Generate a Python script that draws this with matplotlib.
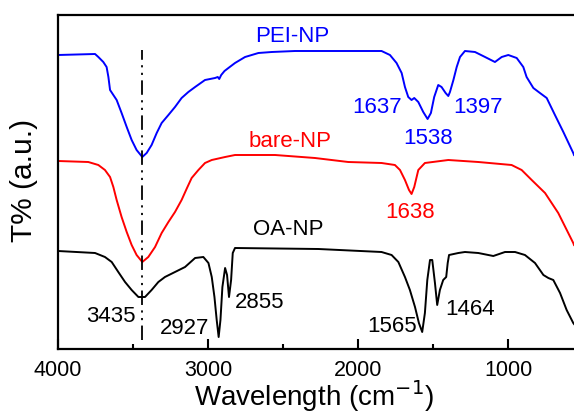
import matplotlib
matplotlib.use("Agg")
import matplotlib.pyplot as plt
from matplotlib.ticker import FixedLocator

plt.rcParams['font.family'] = ['Liberation Sans', 'DejaVu Sans']

# ---- data (wavenumber cm^-1, transmittance in arbitrary offset units) ----
pei_w = [4000, 3753, 3731, 3698, 3676, 3664, 3653, 3631, 3609, 3576, 3542, 3509, 3476,
         3438, 3409, 3376, 3342, 3309, 3264, 3220, 3176, 3131, 3086, 3020, 2953, 2935,
         2925, 2912, 2890, 2864, 2820, 2753, 2664, 2575, 2420, 2264, 1843, 1787, 1743, 1709,
         1687, 1665, 1643, 1625, 1598, 1565, 1536, 1514, 1492, 1465, 1443, 1416, 1398,
         1387, 1364, 1342, 1320, 1287, 1220, 1153, 1087, 1042, 998, 942, 898, 876, 831,
         787, 742, 687, 631, 565, 560]
pei_t = [294, 295, 292, 287, 282, 272, 259, 254, 249, 236, 222, 209, 199,
         192, 196, 204, 216, 226, 234, 242, 251, 257, 262, 269, 271, 272,
         270, 274, 278, 281, 286, 292, 296, 297, 298, 298, 298, 294, 286, 276,
         262, 252, 249, 251, 247, 237, 230, 236, 252, 264, 262, 256, 253,
         257, 269, 282, 292, 298, 297, 292, 287, 292, 294, 291, 282, 272, 261,
         256, 251, 234, 217, 196, 194]

bare_w = [4000, 3798, 3731, 3687, 3653, 3631, 3609, 3576, 3542, 3509, 3476, 3438, 3398,
          3353, 3309, 3264, 3220, 3176, 3140, 3109, 3064, 3020, 2975, 2886, 2820, 2553,
          2287, 2065, 1843, 1754, 1720, 1687, 1660, 1643, 1625, 1598, 1554, 1398, 1198,
          976, 909, 842, 753, 665, 565, 560]
bare_t = [188, 187, 184, 179, 172, 162, 149, 132, 117, 104, 94, 87, 92,
          102, 116, 127, 137, 149, 161, 171, 179, 186, 189, 192, 194, 194,
          191, 187, 186, 184, 179, 169, 159, 155, 162, 179, 186, 189, 187,
          184, 179, 169, 156, 136, 106, 104]

oa_w = [4000, 3753, 3687, 3642, 3598, 3553, 3509, 3464, 3420, 3376, 3331, 3287, 3220,
        3153, 3086, 3031, 2997, 2975, 2957, 2942, 2929, 2917, 2904, 2886, 2873, 2860,
        2846, 2835, 2820, 2264, 1843, 1776, 1731, 1687, 1654, 1620, 1594, 1572, 1554,
        1538, 1520, 1505, 1487, 1472, 1454, 1432, 1412, 1402, 1393, 1331, 1287, 1198,
        1098, 1020, 953, 887, 820, 764, 731, 698, 653, 609, 565, 560]
oa_t = [98, 96, 92, 87, 77, 67, 59, 52, 52, 59, 67, 72, 77,
        82, 91, 92, 86, 72, 52, 29, 12, 29, 62, 81, 74, 52,
        69, 96, 101, 100, 97, 94, 87, 72, 59, 42, 26, 17, 36,
        69, 89, 89, 66, 44, 59, 69, 72, 86, 94, 96, 97, 96,
        93, 97, 97, 94, 86, 74, 71, 69, 56, 39, 26, 25]

ref_line_w = 3438
ref_line_t = [9, 299]

# annotations: (text, wavenumber, baseline y, colour)
labels = [
    ("PEI-NP", 2440, 307, "#0000ff"),
    ("1637", 1873, 236, "#0000ff"),
    ("1538", 1533, 205, "#0000ff"),
    ("1397", 1200, 236, "#0000ff"),
    ("bare-NP", 2453, 202, "#ff0000"),
    ("1638", 1653, 131, "#ff0000"),
    ("OA-NP", 2467, 114, "#000000"),
    ("3435", 3647, 27, "#000000"),
    ("2927", 3153, 15, "#000000"),
    ("2855", 2653, 41, "#000000"),
    ("1565", 1773, 17, "#000000"),
    ("1464", 1253, 34, "#000000"),
]

major_ticks = [4000, 3000, 2000, 1000]
minor_ticks = [3500, 2500, 1500, 500]

fig = plt.figure(figsize=(5.74, 4.13), dpi=100)
ax = fig.add_axes([58/574, 1 - 349/413, 1 - 58/574, (349 - 15)/413])

ax.plot(pei_w, pei_t, color="#0000ff", lw=1.4)
ax.plot(bare_w, bare_t, color="#ff0000", lw=1.4)
ax.plot(oa_w, oa_t, color="#000000", lw=1.4)
ax.plot([ref_line_w, ref_line_w], ref_line_t, color="black", lw=1.3,
        linestyle=(0, (8, 3, 1.2, 3, 1.2, 3)))

for txt, w, t, c in labels:
    ax.text(w, t, txt, color=c, fontsize=16, ha="center", va="baseline")

ax.set_xlim(4000, 560)
ax.set_ylim(0, 334)
ax.xaxis.set_major_locator(FixedLocator(major_ticks))
ax.xaxis.set_minor_locator(FixedLocator(minor_ticks))
ax.set_yticks([])
ax.tick_params(axis="x", which="major", direction="in", length=7, width=1.5,
               labelsize=15.5, pad=8)
ax.tick_params(axis="x", which="minor", direction="in", length=3.6, width=1.5)
for s in ["left", "bottom", "top"]:
    ax.spines[s].set_linewidth(1.6)
ax.spines["right"].set_visible(False)

fig.text(314/574, 1 - 406/413, "Wavelength (cm$^{-1}$)", fontsize=20,
         ha="center", va="baseline")
fig.text(24/574, 1 - 180/413, "T% (a.u.)", fontsize=21.5, rotation=90,
         ha="center", va="center")

fig.savefig("out.png", dpi=100)
